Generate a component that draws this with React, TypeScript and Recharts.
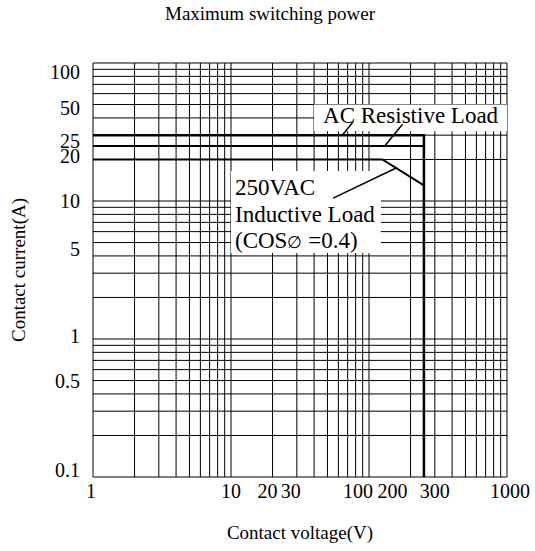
import { LineChart, Line, XAxis, YAxis, CartesianGrid, ReferenceArea, ReferenceLine, Label } from 'recharts';

const FONT = '"Liberation Serif", "Times New Roman", serif';

// grid lines (log paper)
const voltageGrid = [1, 2, 3, 4, 5, 6, 7, 8, 9, 10, 20, 30, 40, 50, 60, 70, 80, 90, 100, 200, 300, 400, 500, 600, 700, 800, 900, 1000];
const currentGrid = [0.1, 0.2, 0.3, 0.4, 0.5, 0.6, 0.7, 0.8, 0.9, 1, 2, 3, 4, 5, 6, 7, 8, 9, 10, 20, 30, 40, 50, 60, 70, 80, 90, 100];

// labelled ticks
const voltageLabels = [1, 10, 20, 30, 100, 200, 300, 1000];
const currentLabels = [0.1, 0.5, 1, 5, 10, 20, 50, 100];
const extraCurrentLabel = 25; // no grid line here

// load curves (V, A)
const resistive30 = [
  { v: 1, i: 30 },
  { v: 250, i: 30 },
  { v: 250, i: 0.1 },
];
const resistive25 = [
  { v: 1, i: 25 },
  { v: 250, i: 25 },
];
const inductive = [
  { v: 1, i: 20 },
  { v: 125, i: 20 },
  { v: 250, i: 13 },
];

// hand placed labels in the original are nudged a bit
const xLabelShift: Record<number, number> = { 1: -2, 20: -5, 30: -6, 100: -11, 200: -18, 1000: 3 };
const yLabelShift: Record<number, number> = { 100: 9, 50: 3, 25: -5, 20: -3, 5: 6, 1: -3, 0.1: -7 };

const XTick = (props: any) => {
  const { x, y, payload } = props;
  const v = payload.value;
  if (!voltageLabels.includes(v)) return <g />;
  return (
    <text x={x + (xLabelShift[v] ?? 0)} y={y} dy={21} textAnchor="middle" fontSize={20} fontFamily={FONT} fill="#000">
      {v}
    </text>
  );
};

const YTick = (props: any) => {
  const { x, y, payload } = props;
  const v = payload.value;
  if (!currentLabels.includes(v)) return <g />;
  return (
    <text x={x - 13} y={y + (yLabelShift[v] ?? 0)} dy={7} textAnchor="end" fontSize={20} fontFamily={FONT} fill="#000">
      {v}
    </text>
  );
};

const ExtraYLabel = (props: any) => {
  const { x, y } = props.viewBox;
  return (
    <text x={x - 13} y={y + (yLabelShift[extraCurrentLabel] ?? 0)} dy={7} textAnchor="end" fontSize={20} fontFamily={FONT} fill="#000">
      {extraCurrentLabel}
    </text>
  );
};

const ResistiveText = (props: any) => {
  const { x, y } = props.viewBox;
  return (
    <text x={x + 9} y={y + 18} fontSize={23} fontFamily={FONT} fill="#000">
      AC Resistive Load
    </text>
  );
};

const InductiveText = (props: any) => {
  const { x, y } = props.viewBox;
  return (
    <text x={x + 4} y={y} fontSize={23} fontFamily={FONT} fill="#000">
      <tspan x={x + 4} dy={24}>250VAC</tspan>
      <tspan x={x + 4} dy={27}>Inductive Load</tspan>
      <tspan x={x + 4} dy={26}>(COS</tspan>
      <tspan fontSize={17}>∅</tspan>
      <tspan> =0.4)</tspan>
    </text>
  );
};

export default function App() {
  return (
    <div style={{ position: 'absolute', left: 0, top: 0, width: 535, height: 551, background: '#fff' }}>
      <div
        style={{
          position: 'absolute',
          left: 0,
          top: 3,
          width: 540,
          textAlign: 'center',
          fontFamily: FONT,
          fontSize: 19,
          color: '#000',
        }}
      >
        Maximum switching power
      </div>
      <LineChart width={535} height={551} margin={{ top: 63, right: 28, bottom: 0, left: 0 }}>
        <CartesianGrid stroke="#000" strokeWidth={1} />
        <XAxis
          dataKey="v"
          type="number"
          scale="log"
          domain={[1, 1000]}
          ticks={voltageGrid}
          allowDataOverflow
          height={74}
          axisLine={false}
          tickLine={false}
          tickSize={0}
          tickMargin={0}
          tick={<XTick />}
          interval={0}
        >
          <Label
            content={(p: any) => (
              <text
                x={p.viewBox.x + p.viewBox.width / 2}
                y={p.viewBox.y + 62}
                textAnchor="middle"
                fontSize={19}
                fontFamily={FONT}
                fill="#000"
              >
                Contact voltage(V)
              </text>
            )}
          />
        </XAxis>
        <YAxis
          type="number"
          scale="log"
          domain={[0.1, 100]}
          ticks={currentGrid}
          allowDataOverflow
          width={93}
          axisLine={false}
          tickLine={false}
          tickSize={0}
          tickMargin={0}
          tick={<YTick />}
          interval={0}
        >
          <Label
            content={(p: any) => {
              const cx = p.viewBox.x + 18;
              const cy = p.viewBox.y + p.viewBox.height / 2;
              return (
                <text
                  x={cx}
                  y={cy}
                  dy={7}
                  textAnchor="middle"
                  fontSize={19}
                  fontFamily={FONT}
                  fill="#000"
                  transform={`rotate(-90 ${cx} ${cy})`}
                >
                  Contact current(A)
                </text>
              );
            }}
          />
        </YAxis>

        <ReferenceLine y={extraCurrentLabel} stroke="none" label={<ExtraYLabel />} />

        <ReferenceArea x1={40} x2={1000} y1={32} y2={50} fill="#fff" fillOpacity={1} stroke="none" label={<ResistiveText />} />
        <ReferenceArea x1={10} x2={122} y1={4.2} y2={16.5} fill="#fff" fillOpacity={1} stroke="none" label={<InductiveText />} />

        <ReferenceLine segment={[{ x: 76, y: 37 }, { x: 64, y: 30 }]} stroke="#000" strokeWidth={1.5} />
        <ReferenceLine segment={[{ x: 175, y: 36 }, { x: 130, y: 25 }]} stroke="#000" strokeWidth={1.5} />
        <ReferenceLine segment={[{ x: 55, y: 10.5 }, { x: 160, y: 17.5 }]} stroke="#000" strokeWidth={1.5} />

        <Line data={resistive30} dataKey="i" type="linear" stroke="#000" strokeWidth={2.5} dot={false} isAnimationActive={false} />
        <Line data={resistive25} dataKey="i" type="linear" stroke="#000" strokeWidth={2} dot={false} isAnimationActive={false} />
        <Line data={inductive} dataKey="i" type="linear" stroke="#000" strokeWidth={2} dot={false} isAnimationActive={false} />
      </LineChart>
    </div>
  );
}
